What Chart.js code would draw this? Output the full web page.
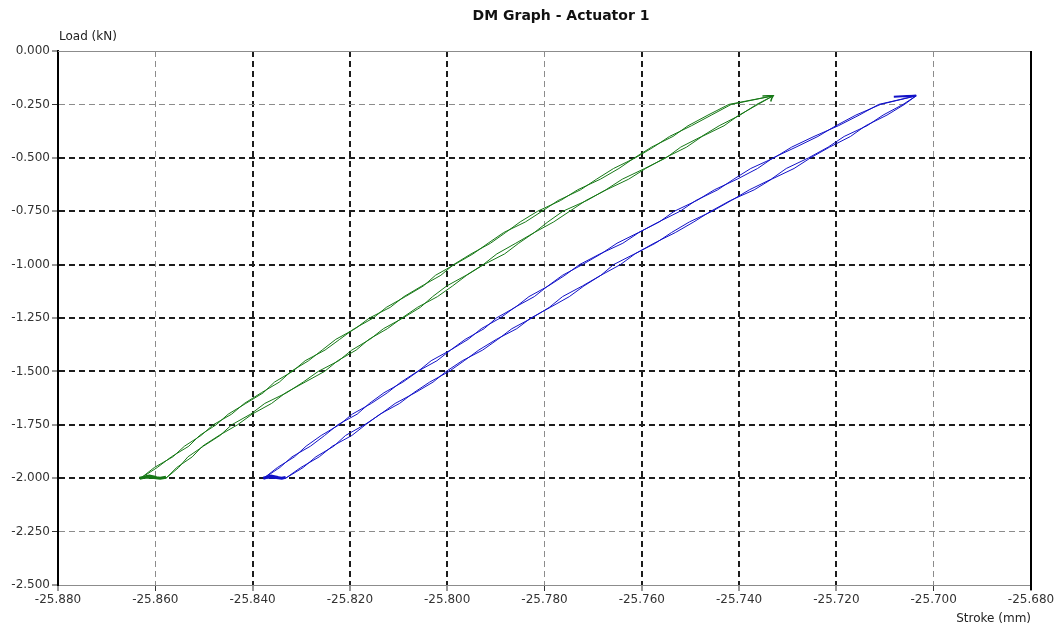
<!DOCTYPE html>
<html>
<head>
<meta charset="utf-8">
<title>DM Graph - Actuator 1</title>
<script src="https://cdn.jsdelivr.net/npm/chart.js@4/dist/chart.umd.min.js"></script>
<style>
  html, body { margin: 0; padding: 0; background: #ffffff; }
  #wrap { width: 1057px; height: 627px; position: relative; }
</style>
</head>
<body>
<div id="wrap"><canvas id="dm" width="1057" height="627"></canvas></div>
<script>
// ---- labels ----
const chartTitle = 'DM Graph - Actuator 1';
const strokeTitle = 'Stroke (mm)';
const loadTitle = 'Load (kN)';

// ---- axis ticks ----
const strokeTicks = [-25.88, -25.86, -25.84, -25.82, -25.80, -25.78, -25.76, -25.74, -25.72, -25.70, -25.68];
const loadTicks = [-2.5, -2.25, -2.0, -1.75, -1.5, -1.25, -1.0, -0.75, -0.5, -0.25, 0];

// ---- sampled load levels (kN), shared by every branch ----
const loadLevels = [-2.00, -1.95, -1.90, -1.85, -1.80, -1.75, -1.70, -1.65, -1.60, -1.55,
                    -1.50, -1.45, -1.40, -1.35, -1.30, -1.25, -1.20, -1.15, -1.10, -1.05,
                    -1.00, -0.95, -0.90, -0.85, -0.80, -0.75, -0.70, -0.65, -0.60, -0.55,
                    -0.50, -0.45, -0.40, -0.35, -0.30, -0.25];
const loadPeak = -0.21;

// ---- green loop: stroke (mm) at each load level ----
const greenRise1 = [-25.8578, -25.8552, -25.8533, -25.8501, -25.8467, -25.8443, -25.8404, -25.8375, -25.8330, -25.8296,
                    -25.8265, -25.8223, -25.8196, -25.8159, -25.8131, -25.8091, -25.8055, -25.8030, -25.8001, -25.7961,
                    -25.7926, -25.7898, -25.7859, -25.7821, -25.7793, -25.7762, -25.7713, -25.7674, -25.7640, -25.7594,
                    -25.7550, -25.7520, -25.7477, -25.7441, -25.7398, -25.7364];
const greenFall1 = [-25.8630, -25.8596, -25.8567, -25.8531, -25.8509, -25.8475, -25.8450, -25.8414, -25.8378, -25.8355,
                    -25.8318, -25.8292, -25.8251, -25.8221, -25.8191, -25.8152, -25.8125, -25.8086, -25.8049, -25.8024,
                    -25.7985, -25.7947, -25.7916, -25.7884, -25.7839, -25.7805, -25.7772, -25.7726, -25.7693, -25.7658,
                    -25.7613, -25.7576, -25.7543, -25.7498, -25.7457, -25.7416];
const greenRise2 = [-25.8578, -25.8556, -25.8524, -25.8503, -25.8469, -25.8431, -25.8401, -25.8361, -25.8332, -25.8292,
                    -25.8252, -25.8225, -25.8187, -25.8161, -25.8123, -25.8093, -25.8061, -25.8020, -25.7989, -25.7960,
                    -25.7925, -25.7882, -25.7853, -25.7821, -25.7781, -25.7748, -25.7715, -25.7673, -25.7627, -25.7592,
                    -25.7552, -25.7508, -25.7476, -25.7431, -25.7400, -25.7361];
const greenFall2 = [-25.8630, -25.8602, -25.8564, -25.8540, -25.8506, -25.8481, -25.8443, -25.8417, -25.8382, -25.8345,
                    -25.8321, -25.8285, -25.8257, -25.8229, -25.8189, -25.8160, -25.8117, -25.8089, -25.8052, -25.8013,
                    -25.7987, -25.7951, -25.7911, -25.7880, -25.7850, -25.7814, -25.7767, -25.7732, -25.7685, -25.7647,
                    -25.7615, -25.7580, -25.7536, -25.7505, -25.7464, -25.7421];
const greenPeakStroke = -25.7330;

// ---- blue loop: stroke (mm) at each load level ----
const blueRise1 = [-25.8332, -25.8296, -25.8270, -25.8233, -25.8209, -25.8170, -25.8137, -25.8107, -25.8066, -25.8029,
                   -25.8002, -25.7969, -25.7927, -25.7896, -25.7867, -25.7826, -25.7790, -25.7763, -25.7722, -25.7684,
                   -25.7658, -25.7615, -25.7572, -25.7539, -25.7502, -25.7455, -25.7416, -25.7379, -25.7334, -25.7303,
                   -25.7257, -25.7217, -25.7184, -25.7137, -25.7104, -25.7063];
const blueFall1 = [-25.8377, -25.8344, -25.8319, -25.8281, -25.8252, -25.8225, -25.8185, -25.8160, -25.8130, -25.8091,
                   -25.8060, -25.8033, -25.7993, -25.7957, -25.7930, -25.7891, -25.7861, -25.7821, -25.7793, -25.7763,
                   -25.7722, -25.7684, -25.7651, -25.7607, -25.7564, -25.7533, -25.7487, -25.7451, -25.7404, -25.7362,
                   -25.7330, -25.7283, -25.7238, -25.7201, -25.7160, -25.7109];
const blueRise2 = [-25.8332, -25.8301, -25.8263, -25.8236, -25.8196, -25.8168, -25.8138, -25.8098, -25.8069, -25.8036,
                   -25.7996, -25.7965, -25.7935, -25.7899, -25.7857, -25.7828, -25.7788, -25.7749, -25.7719, -25.7684,
                   -25.7644, -25.7614, -25.7575, -25.7531, -25.7493, -25.7458, -25.7418, -25.7369, -25.7333, -25.7287,
                   -25.7253, -25.7214, -25.7171, -25.7140, -25.7096, -25.7060];
const blueFall2 = [-25.8377, -25.8349, -25.8314, -25.8290, -25.8259, -25.8222, -25.8195, -25.8156, -25.8123, -25.8095,
                   -25.8061, -25.8021, -25.7993, -25.7963, -25.7924, -25.7899, -25.7860, -25.7832, -25.7792, -25.7758,
                   -25.7728, -25.7686, -25.7639, -25.7606, -25.7565, -25.7521, -25.7489, -25.7444, -25.7411, -25.7376,
                   -25.7328, -25.7292, -25.7246, -25.7196, -25.7153, -25.7113];
const bluePeakStroke = -25.7036;

// ---- dwell at the load reversals ----
const greenDwellStroke = [-25.8632, -25.8612, -25.8598, -25.8620, -25.8590, -25.8578];
const greenDwellLoad   = [-2.000, -1.990, -1.997, -1.992, -2.000, -1.996];
const blueDwellStroke  = [-25.8378, -25.8362, -25.8348, -25.8366, -25.8340, -25.8332];
const blueDwellLoad    = [-2.000, -1.990, -1.997, -1.992, -2.000, -1.996];
const greenPeakDwellStroke = [-25.7352, -25.7340, -25.7330, -25.7333, -25.7335];
const greenPeakDwellLoad   = [-0.211, -0.210, -0.210, -0.222, -0.236];
const bluePeakDwellStroke = [-25.7082, -25.7055, -25.7036, -25.7062, -25.7044];
const bluePeakDwellLoad   = [-0.214, -0.211, -0.210, -0.213, -0.211];

// one continuous trace: each cycle climbs the rise branch, turns at the peak, returns down the fall branch
function loopPoints(rises, falls, peakStroke) {
  const pts = [];
  rises.forEach((rise, c) => {
    loadLevels.forEach((load, i) => pts.push({ x: rise[i], y: load }));
    pts.push({ x: peakStroke, y: loadPeak });
    for (let i = loadLevels.length - 1; i >= 0; i--) pts.push({ x: falls[c][i], y: loadLevels[i] });
  });
  return pts;
}
const pairs = (xs, ys) => xs.map((x, i) => ({ x, y: ys[i] }));

const GREEN = 'rgb(22,120,22)';
const BLUE = 'rgb(18,18,200)';

const traceStyle = { showLine: true, pointRadius: 0, borderWidth: 1, tension: 0, fill: false };

// light (grey) and heavy (black) dashed grid lines
const lightX = [1, 5, 9];
const lightY = [1, 9];
const gridStyle = (lightIdx) => ({
  color: (c) => (c.index === 0 || c.index === 10) ? 'rgba(0,0,0,0)' : (lightIdx.includes(c.index) ? '#8c8c8c' : '#1c1c1c'),
  lineWidth: (c) => lightIdx.includes(c.index) ? 1 : 2,
  tickLength: 6,
  tickColor: '#333333',
  tickWidth: 1,
  tickBorderDash: []
});

const tickFont = { family: 'DejaVu Sans', size: 12 };

const frameAndText = {
  id: 'frameAndText',
  beforeDatasetsDraw(chart) {
    const { ctx, chartArea: a } = chart;
    ctx.save();
    // top edge (0.000) in grey, right edge in black
    ctx.strokeStyle = '#8c8c8c';
    ctx.lineWidth = 1;
    ctx.beginPath();
    ctx.moveTo(a.left, a.top + 0.5);
    ctx.lineTo(a.right, a.top + 0.5);
    ctx.stroke();
    ctx.strokeStyle = '#000000';
    ctx.lineWidth = 2;
    ctx.beginPath();
    ctx.moveTo(a.right, a.top);
    ctx.lineTo(a.right, a.bottom + 5);
    ctx.stroke();
    ctx.restore();
  },
  afterDraw(chart) {
    const { ctx, chartArea: a } = chart;
    ctx.save();
    ctx.fillStyle = '#111111';
    ctx.textBaseline = 'middle';
    ctx.font = 'bold 14px "DejaVu Sans"';
    ctx.textAlign = 'center';
    ctx.fillText(chartTitle, 561, 16);
    ctx.font = '12px "DejaVu Sans"';
    ctx.fillStyle = '#222222';
    ctx.textAlign = 'left';
    ctx.fillText(loadTitle, a.left + 1, 37);
    ctx.textAlign = 'right';
    ctx.fillText(strokeTitle, a.right, 619);
    ctx.restore();
  }
};

new Chart(document.getElementById('dm'), {
  type: 'scatter',
  data: {
    datasets: [
      Object.assign({ label: 'Actuator 1 (A)', data: loopPoints([greenRise1, greenRise2], [greenFall1, greenFall2], greenPeakStroke), borderColor: GREEN }, traceStyle),
      Object.assign({ label: 'Actuator 1 (B)', data: loopPoints([blueRise1, blueRise2], [blueFall1, blueFall2], bluePeakStroke), borderColor: BLUE }, traceStyle),
      Object.assign({}, traceStyle, { label: 'A dwell', data: pairs(greenDwellStroke, greenDwellLoad), borderColor: GREEN, borderWidth: 3 }),
      Object.assign({}, traceStyle, { label: 'B dwell', data: pairs(blueDwellStroke, blueDwellLoad), borderColor: BLUE, borderWidth: 3 }),
      Object.assign({}, traceStyle, { label: 'A peak dwell', data: pairs(greenPeakDwellStroke, greenPeakDwellLoad), borderColor: GREEN, borderWidth: 1.5 }),
      Object.assign({}, traceStyle, { label: 'B peak dwell', data: pairs(bluePeakDwellStroke, bluePeakDwellLoad), borderColor: BLUE, borderWidth: 2 })
    ]
  },
  options: {
    responsive: false,
    animation: false,
    devicePixelRatio: 1,
    layout: { padding: { top: 51, right: 26, bottom: 0, left: 0 } },
    plugins: { legend: { display: false }, tooltip: { enabled: false }, title: { display: false } },
    scales: {
      x: {
        type: 'linear',
        min: strokeTicks[0],
        max: strokeTicks[strokeTicks.length - 1],
        afterBuildTicks: (s) => { s.ticks = strokeTicks.map((v) => ({ value: v })); },
        afterFit: (s) => { s.height = 42; s.paddingLeft = 0; s.paddingRight = 0; },
        ticks: { callback: (v) => Number(v).toFixed(3), font: tickFont, color: '#333333', padding: 2, maxRotation: 0, autoSkip: false },
        grid: gridStyle(lightX),
        border: { display: true, color: '#8c8c8c', width: 1, dash: [6, 4] }
      },
      y: {
        type: 'linear',
        min: loadTicks[0],
        max: loadTicks[loadTicks.length - 1],
        afterBuildTicks: (s) => { s.ticks = loadTicks.map((v) => ({ value: v })); },
        afterFit: (s) => { s.width = 58; },
        ticks: { callback: (v) => Number(v).toFixed(3), font: tickFont, color: '#333333', padding: 2, autoSkip: false },
        grid: gridStyle(lightY),
        border: { display: true, color: '#000000', width: 2, dash: [6, 4] }
      }
    }
  },
  plugins: [frameAndText]
});
</script>
</body>
</html>
